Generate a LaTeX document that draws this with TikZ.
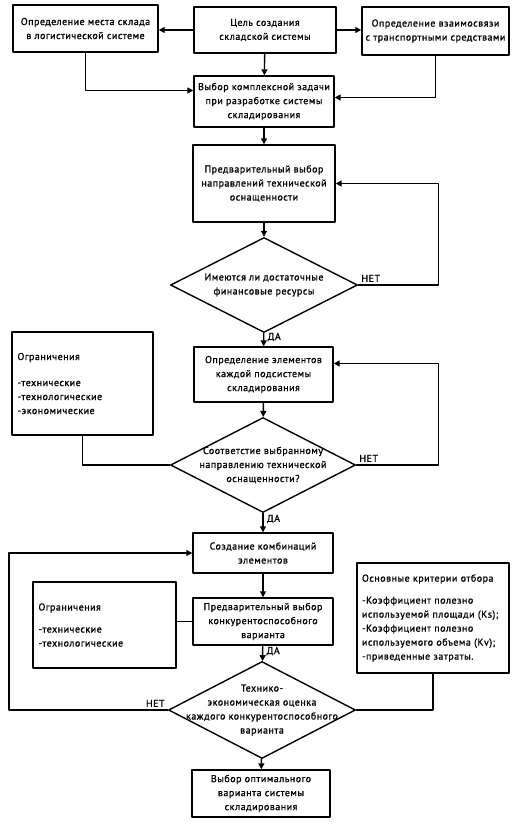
\documentclass[tikz,border=0pt]{standalone}
\usepackage{fontspec}
\setmainfont[LetterSpace=5,FakeBold=1]{PT Sans}
\usetikzlibrary{shapes.geometric,arrows.meta}
\begin{document}
\begin{tikzpicture}[x=1pt,y=-1pt,font=\fontsize{10}{14}\selectfont,line join=round,>={Triangle[length=6pt,width=6pt]},
		box/.style={draw,line width=1.4pt,align=center,inner sep=2pt},
		decision/.style={draw,line width=1.4pt,diamond,aspect=2,inner sep=-16pt,align=center},
		note/.style={draw,line width=1.4pt,align=left,inner sep=5pt},
		link/.style={line width=1.4pt}]
			\useasboundingbox (0,0) rectangle (514,825);
			% top row
			\node[box,minimum width=145pt,minimum height=47pt] (place) at (85.5,28.5) {Определение места склада\\в логистической системе};
			\node[box,minimum width=142pt,minimum height=46pt] (goal) at (265,30) {Цель создания\\складской системы};
			\node[box,minimum width=147pt,minimum height=48pt] (tie) at (435.5,31) {Определение взаимосвязи\\с транспортными средствами};
			\node[box,minimum width=140pt,minimum height=51pt] (task) at (264,101.5) {Выбор комплексной задачи\\при разработке системы\\складирования};
			% main column
			\node[box,minimum width=142pt,minimum height=77pt] (tech) at (264,183.5) {Предварительный выбор\\направлений технической\\оснащенности};
			\node[decision,minimum width=187pt,minimum height=95pt] (fin) at (264,285) {Имеются ли достаточные\\финансовые ресурсы};
			\node[box,minimum width=139pt,minimum height=55pt] (elem) at (263.5,374.5) {Определение элементов\\каждой подсистемы\\складирования};
			\node[note,minimum width=141pt,minimum height=103pt,text width=130pt] (lim1) at (82.5,383.5) {Ограничения\\[12pt]-технические\\-технологические\\-экономические\\[10pt]};
			\node[decision,minimum width=185pt,minimum height=95pt] (match) at (263,465) {Соответстие выбранному\\направлению технической\\оснащенности?};
			\node[box,minimum width=140pt,minimum height=40pt] (comb) at (263,553) {Создание комбинаций\\элементов};
			\node[note,minimum width=143pt,minimum height=86pt,text width=132pt] (lim2) at (104.5,625) {Ограничения\\[8pt]-технические\\-технологические\\[6pt]};
			\node[box,minimum width=140pt,minimum height=47pt] (pre) at (263,621.5) {Предварительный выбор\\конкурентоспособного\\варианта};
			\node[note,minimum width=152pt,minimum height=110pt,text width=142pt] (crit) at (433,618) {Основные критерии отбора\\[8pt]-Коэффициент полезно\\используемой площади (Кs);\\-Коэффициент полезно\\используемого объема (Кv);\\-приведенные затраты.};
			\node[decision,minimum width=187pt,minimum height=97pt] (eval) at (262,710) {Технико-\\экономическая оценка\\каждого конкурентоспособного\\варианта};
			\node[box,minimum width=138pt,minimum height=47pt] (best) at (261,793.5) {Выбор оптимального\\варианта системы\\складирования};
			% connectors
			\draw[link,->] (goal.west) -- (goal.west -| place.east);
			\draw[link,->] (goal.east) -- (goal.east -| tie.west);
			\draw[link,->] (goal) -- (task);
			\draw[link,->] (place.south) |- ([yshift=11pt]task.west);
			\draw[link,->] (tie.south) |- ([yshift=4pt]task.east);
			\draw[link,->] (task) -- (tech);
			\draw[link,->] (tech) -- (fin);
			\draw[link,->] (fin.east) -- ++(80,0) |- (tech.east);
			\node[above right,inner sep=3pt] (finno) at (fin.east) {НЕТ};
			\draw[link,->] (fin) -- (elem) node[pos=0.3,right] (finyes) {ДА};
			\draw[link,->] (elem) -- (match);
			\draw[link,->] (match.east) -- ++(82,0) |- ([yshift=11pt]elem.east);
			\node[above right,inner sep=3pt] (matchno) at (match.east) {НЕТ};
			\draw[link] (lim1.south) |- (match.west);
			\draw[link,->] (match) -- (comb) node[pos=0.3,right] (matchyes) {ДА};
			\draw[link,->] (comb) -- (pre);
			\draw[link] (pre.west) -- (pre.west -| lim2.east);
			\draw[link,->] (pre) -- (eval) node[pos=0.35,right] (preyes) {ДА};
			\draw[link,->] (eval.west) -- ++(-159,0) |- (comb.west);
			\node[above left,inner sep=3pt] (evalno) at (eval.west) {НЕТ};
			\draw[link] (crit.south) |- (eval.east);
			\draw[link,->] (eval) -- (best);
		\end{tikzpicture}
\end{document}
